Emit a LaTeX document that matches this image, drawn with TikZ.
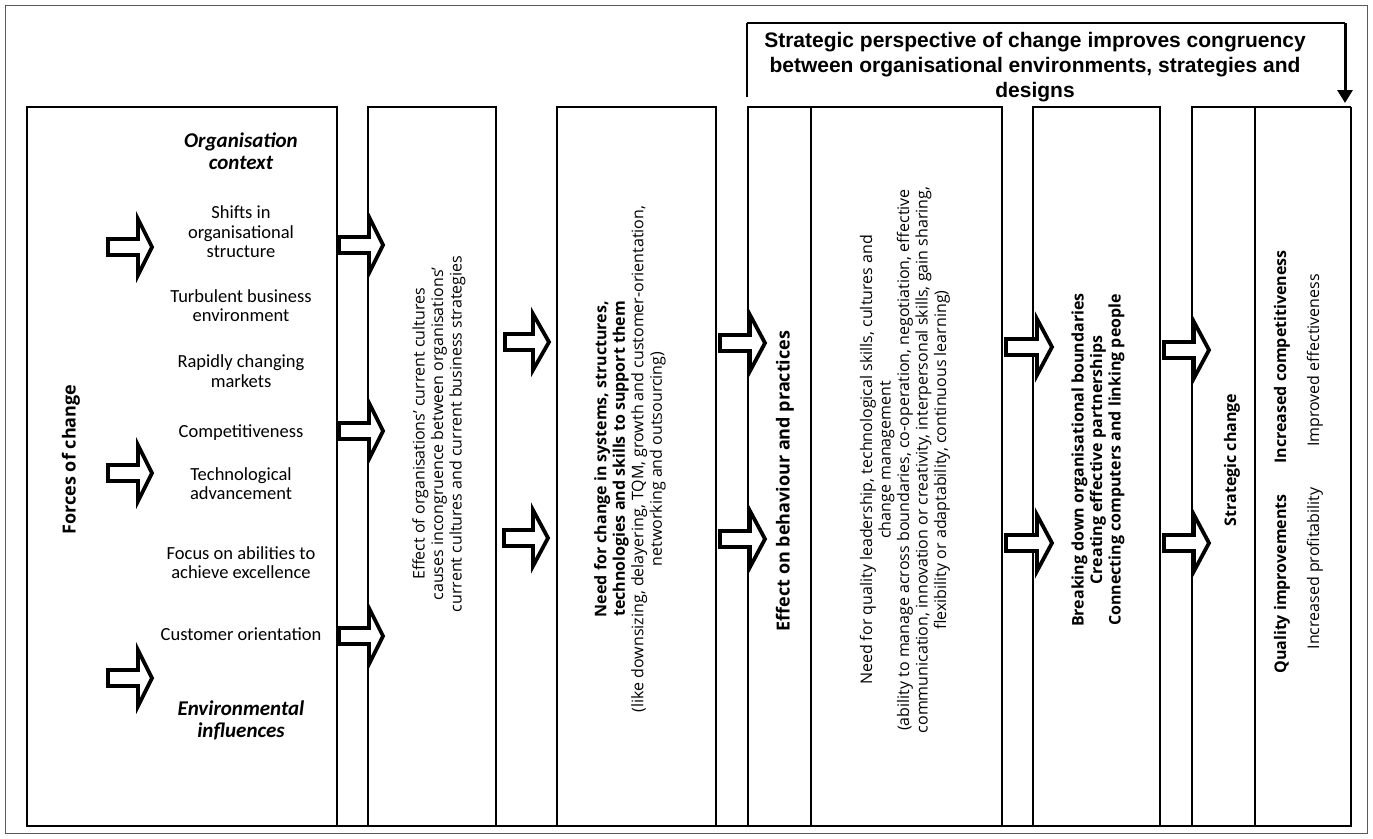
\documentclass[tikz,border=0pt]{standalone}
\usepackage{fontspec}
\setmainfont{Carlito}
\newfontfamily\osans{Open Sans}
\newfontfamily\lsans{Liberation Sans}
\usetikzlibrary{arrows.meta}
\tikzset{
  hlab/.style={align=center, inner sep=0pt, font=\fontsize{18.5}{19.5}\selectfont},
  hbi/.style={hlab, font=\bfseries\itshape\fontsize{21}{21.5}\selectfont},
  vlab/.style={align=center, rotate=90, inner sep=0pt, font=\osans\fontsize{16}{18.5}\selectfont},
  vbold/.style={vlab, font=\osans\bfseries\fontsize{16}{18.5}\selectfont},
  vbig/.style={vlab, font=\osans\bfseries\fontsize{18}{21}\selectfont},
  boxline/.style={line width=1.5pt},
  arrowsty/.style={fill=white, draw=black, line width=3.8pt, line join=miter},
  frame/.style={draw=black!65, line width=1pt},
}
\newcommand\blkarrow[4]{%
  \draw[arrowsty] (#1,#4-8) -- (#2,#4-8) -- (#2,#4-28) -- (#3,#4) -- (#2,#4+28) -- (#2,#4+8) -- (#1,#4+8) -- cycle;}
\begin{document}
\begin{tikzpicture}[x=1pt,y=-1pt]
\useasboundingbox (0,0) rectangle (1373,838);
\fill[white] (0,0) rectangle (1373,838);
\draw[frame] (5,5) rectangle (1367,833);

% boxes
\draw[boxline] (27,826) -- (27,107) -- (337,107) -- (337,826);
\draw[boxline] (368,826) -- (368,107) -- (496,107) -- (496,826);
\draw[boxline] (557,826) -- (557,107) -- (716,107) -- (716,826);
\draw[boxline] (748,826) -- (748,107) -- (1002,107) -- (1002,826);
\draw[boxline] (811,107) -- (811,826);
\draw[boxline] (1033,826) -- (1033,107) -- (1160,107) -- (1160,826);
\draw[boxline] (1192,826) -- (1192,107) -- (1351,107);
\draw[line width=2.5pt] (1351,107) -- (1351,826);
\draw[boxline] (1255,107) -- (1255,826);
\draw[line width=2.5pt] (26,826) -- (1352,826);

% top bracket
\node[font=\lsans\bfseries\fontsize{21}{25}\selectfont, align=center, inner sep=0pt] (title) at (1035,67)
  {Strategic perspective of change improves congruency\\between organisational environments, strategies and\\designs};
\coordinate (bl) at (747,97);
\coordinate (bc1) at (747,23);
\coordinate (bc2) at (1345,23);
\coordinate (br) at (1345,103);
\draw[line width=1.5pt] (bl) -- (bc1);
\draw[line width=2pt] (bc1) -- (bc2);
\draw[line width=3pt, -{Triangle[width=15pt,length=13pt]}] (bc2) -- (br);

% box 1 texts
\node[hbi] (oc) at (241,151) {Organisation\\context};
\node[hlab] (t1) at (241,232) {Shifts in\\organisational\\structure};
\node[hlab] (t2) at (241,305.5) {Turbulent business\\environment};
\node[hlab] (t3) at (241,371) {Rapidly changing\\markets};
\node[hlab] (t4) at (241,433) {Competitiveness};
\node[hlab] (t5) at (241,483.5) {Technological\\advancement};
\node[hlab] (t6) at (241,562.5) {Focus on abilities to\\achieve excellence};
\node[hlab] (t7) at (241,634) {Customer orientation};
\node[hbi] (ei) at (241,720.5) {Environmental\\influences};
\node[vbig] (foc) at (71,459.5) {Forces of change};

% box 2
\node[vlab] (b2) at (439,434) {Effect of organisations’ current cultures\\causes incongruence between organisations’\\current cultures and current business strategies};
% box 3
\node[vlab] (b3) at (630,459) {\textbf{Need for change in systems, structures,}\\\textbf{technologies and skills to support them}\\(like downsizing, delayering, TQM, growth and customer-orientation,\\networking and outsourcing)};
% box 4
\node[vbig] (b4a) at (785,481) {Effect on behaviour and practices};
\node[vlab] (b4b) at (905,460) {Need for quality leadership, technological skills, cultures and\\change management\\(ability to manage across boundaries, co-operation, negotiation, effective\\communication, innovation or creativity, interpersonal skills, gain sharing,\\flexibility or adaptability, continuous learning)};
% box 5
\node[vbold] (b5) at (1098,460) {Breaking down organisational boundaries\\Creating effective partnerships\\Connecting computers and linking people};
% box 6
\node[vbold] (b6a) at (1232,460) {Strategic change};
\node[vbold] (b6b) at (1282,357) {Increased competitiveness};
\node[vlab] (b6c) at (1315,360.5) {Improved effectiveness};
\node[vbold] (b6d) at (1282,584) {Quality improvements};
\node[vlab] (b6e) at (1315,568.5) {Increased profitability};

% block arrows
\blkarrow{108}{138}{152}{247}
\blkarrow{108}{138}{152}{473}
\blkarrow{108}{138}{152}{678}
\blkarrow{339}{369}{383}{245}
\blkarrow{339}{369}{383}{431}
\blkarrow{339}{369}{383}{636}
\blkarrow{505}{533}{549}{342}
\blkarrow{504}{533}{548}{538}
\blkarrow{720}{750}{765}{343}
\blkarrow{720}{750}{765}{539}
\blkarrow{1006}{1037}{1052}{347}
\blkarrow{1006}{1037}{1052}{543}
\blkarrow{1164}{1194}{1209}{350}
\blkarrow{1164}{1194}{1209}{543}
\end{tikzpicture}
\end{document}
